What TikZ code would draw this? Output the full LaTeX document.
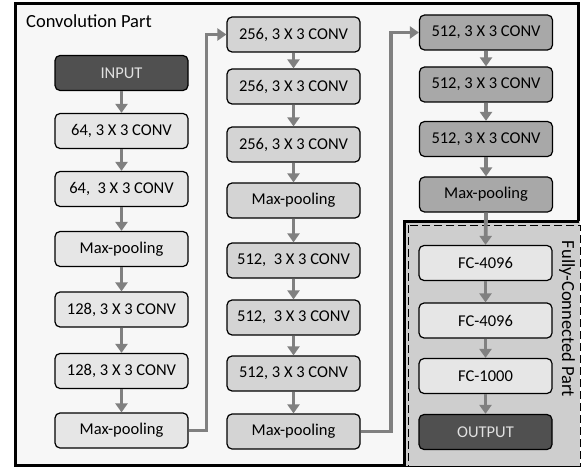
\documentclass[tikz,border=0pt]{standalone}
\usepackage{fontspec}
\setmainfont{Carlito}
\usetikzlibrary{arrows.meta}
\definecolor{bgout}{HTML}{F7F7F7}
\definecolor{bgfc}{HTML}{CECECE}
\definecolor{cA}{HTML}{E6E6E6}
\definecolor{cB}{HTML}{D4D4D4}
\definecolor{cC}{HTML}{A8A8A8}
\definecolor{cD}{HTML}{505050}
\definecolor{arr}{HTML}{808080}
\tikzset{
  blk/.style={draw=black, line width=1.2pt, rounded corners=5pt, minimum width=133pt, minimum height=35pt, inner sep=0pt, font=\fontsize{16.5}{19}\selectfont, text=black},
  lightbox/.style={blk, fill=cA},
  midbox/.style={blk, fill=cB},
  darkbox/.style={blk, fill=cC},
  iobox/.style={blk, fill=cD, text=white!88!black},
  flow/.style={draw=arr, line width=3.8pt, -{Triangle[length=9pt,width=12pt]}},
  lbl/.style={font=\fontsize{18.5}{22}\selectfont, inner sep=0pt}
}
\begin{document}
\begin{tikzpicture}[x=1pt,y=-1pt]
\useasboundingbox (0,0) rectangle (585,470);
% outer frame
\draw[line width=3pt, fill=bgout] (15,4) rectangle (578,465);
% FC frame
\fill[bgfc] (404,221) rectangle (580,466);
\draw[line width=3pt] (404,466) -- (404,221) -- (579,221);
\draw[line width=1pt, dash pattern=on 8pt off 4pt] (408,225) rectangle (580,466);
\node[lbl, anchor=west] (conv) at (26,21) {Convolution Part};
\node[lbl, rotate=-90] (fcl) at (567,319) {Fully-Connected Part};
% column 1
\node[iobox]    (in)  at (121.5,73)  {INPUT};
\node[lightbox] (c1)  at (121.5,131) {64, 3 X 3 CONV};
\node[lightbox] (c2)  at (121.5,189) {64,\ \ 3 X 3 CONV};
\node[lightbox] (p1)  at (121.5,249) {Max-pooling};
\node[lightbox] (c3)  at (121.5,309.5) {128, 3 X 3 CONV};
\node[lightbox] (c4)  at (121.5,371) {128, 3 X 3 CONV};
\node[lightbox] (p2)  at (121.5,430.5) {Max-pooling};
% column 2
\node[midbox] (c5)  at (293.5,34.5)  {256, 3 X 3 CONV};
\node[midbox] (c6)  at (293.5,86.5)  {256, 3 X 3 CONV};
\node[midbox] (c7)  at (293.5,144.5) {256, 3 X 3 CONV};
\node[midbox] (p3)  at (293.5,200.5) {Max-pooling};
\node[midbox] (c8)  at (293.5,260.5) {512,\ \ 3 X 3 CONV};
\node[midbox] (c9)  at (293.5,317.5) {512,\ \ 3 X 3 CONV};
\node[midbox] (c10) at (293.5,373.5) {512, 3 X 3 CONV};
\node[midbox] (p4)  at (293.5,431.5) {Max-pooling};
% column 3
\node[darkbox] (c11) at (486,32.5)  {512, 3 X 3 CONV};
\node[darkbox] (c12) at (486,84.5)  {512, 3 X 3 CONV};
\node[darkbox] (c13) at (486,139)   {512, 3 X 3 CONV};
\node[darkbox] (p5)  at (486,194.5) {Max-pooling};
\node[lightbox] (f1) at (485.5,263) {FC-4096};
\node[lightbox] (f2) at (485.5,320.5) {FC-4096};
\node[lightbox] (f3) at (485.5,376) {FC-1000};
\node[iobox]    (out) at (485.5,432) {OUTPUT};
% arrows
\foreach \a/\b in {in/c1,c1/c2,c2/p1,p1/c3,c3/c4,c4/p2,
                   c5/c6,c6/c7,c7/p3,p3/c8,c8/c9,c9/c10,c10/p4,
                   c11/c12,c12/c13,c13/p5,p5/f1,f1/f2,f2/f3,f3/out}
  \draw[flow] (\a.south) -- (\b.north);
\coordinate (j1) at (206.5,0);
\coordinate (j2) at (391,0);
\draw[flow] (p2.east) -| (j1 |- c5.west) -- (c5.west);
\draw[flow] (p4.east) -| (j2 |- c11.west) -- (c11.west);
\end{tikzpicture}
\end{document}
